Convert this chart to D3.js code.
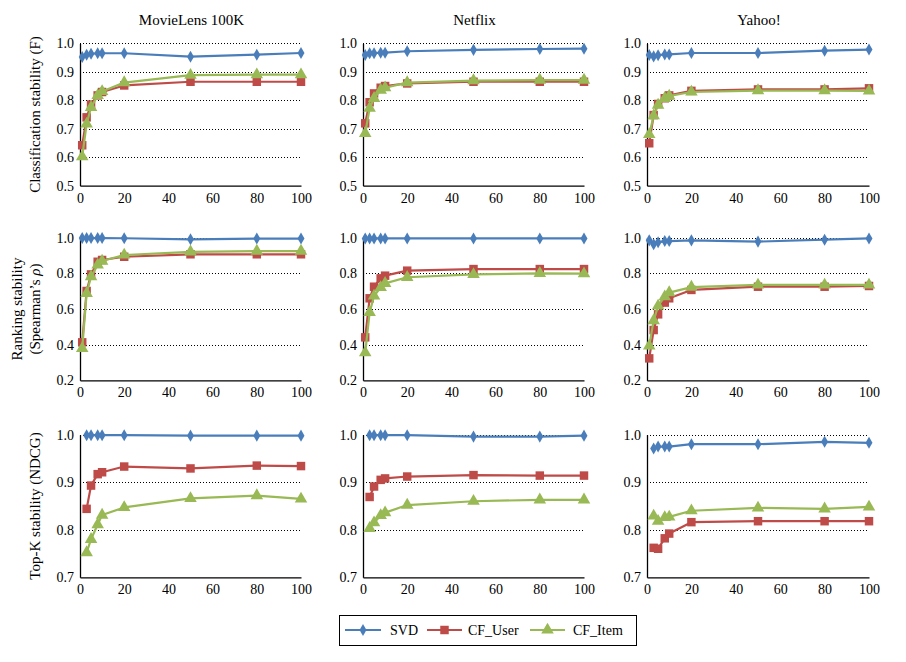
<!DOCTYPE html>
<html>
<head>
<meta charset="utf-8">
<script src="https://cdn.jsdelivr.net/npm/d3@7"></script>
<style>
  html, body { margin: 0; padding: 0; background: #fff; }
  svg { display: block; }
  svg text { font-family: "Liberation Serif", "Times New Roman", serif !important; }
</style>
</head>
<body>
<svg id="chart" width="906" height="662"></svg>
<script>
// ---------- DATA ----------
const datasets = ["MovieLens 100K", "Netflix", "Yahoo!"];
const seriesNames = ["SVD", "CF_User", "CF_Item"];
const xFull = [1, 3, 5, 8, 10, 20, 50, 80, 100];
const xTopK = [3, 5, 8, 10, 20, 50, 80, 100];
const xTicks = [0, 20, 40, 60, 80, 100];
const yTicksCls = [0.5, 0.6, 0.7, 0.8, 0.9, 1.0];
const yTicksRank = [0.2, 0.4, 0.6, 0.8, 1.0];
const yTicksTopK = [0.7, 0.8, 0.9, 1.0];

// Classification stability (F)
const clsSvdML   = [0.952, 0.960, 0.963, 0.965, 0.965, 0.965, 0.953, 0.960, 0.966];
const clsUserML  = [0.642, 0.740, 0.785, 0.817, 0.829, 0.852, 0.865, 0.865, 0.865];
const clsItemML  = [0.602, 0.717, 0.775, 0.817, 0.831, 0.862, 0.888, 0.890, 0.890];
const clsSvdNF   = [0.959, 0.965, 0.965, 0.967, 0.967, 0.972, 0.977, 0.980, 0.981];
const clsUserNF  = [0.719, 0.793, 0.824, 0.844, 0.850, 0.859, 0.865, 0.865, 0.865];
const clsItemNF  = [0.684, 0.772, 0.807, 0.836, 0.844, 0.862, 0.869, 0.871, 0.871];
const clsSvdYH   = [0.959, 0.954, 0.958, 0.961, 0.961, 0.966, 0.966, 0.974, 0.978];
const clsUserYH  = [0.649, 0.748, 0.787, 0.807, 0.817, 0.833, 0.838, 0.838, 0.842];
const clsItemYH  = [0.680, 0.746, 0.783, 0.807, 0.815, 0.829, 0.834, 0.834, 0.833];

// Ranking stability (Spearman's rho)
const rankSvdML  = [0.998, 0.998, 0.998, 0.998, 0.998, 0.997, 0.991, 0.995, 0.995];
const rankUserML = [0.413, 0.701, 0.794, 0.865, 0.875, 0.893, 0.907, 0.907, 0.907];
const rankItemML = [0.379, 0.688, 0.781, 0.847, 0.869, 0.903, 0.921, 0.925, 0.925];
const rankSvdNF  = [0.995, 0.996, 0.996, 0.996, 0.996, 0.996, 0.996, 0.996, 0.996];
const rankUserNF = [0.441, 0.660, 0.725, 0.772, 0.787, 0.815, 0.824, 0.824, 0.824];
const rankItemNF = [0.355, 0.581, 0.673, 0.721, 0.744, 0.778, 0.794, 0.800, 0.798];
const rankSvdYH  = [0.985, 0.963, 0.974, 0.981, 0.981, 0.985, 0.978, 0.989, 0.996];
const rankUserYH = [0.323, 0.482, 0.570, 0.636, 0.660, 0.707, 0.725, 0.725, 0.729];
const rankItemYH = [0.393, 0.535, 0.617, 0.669, 0.692, 0.723, 0.735, 0.735, 0.735];

// Top-K stability (NDCG)
const topkSvdML  = [0.999, 0.999, 0.999, 0.999, 0.999, 0.998, 0.998, 0.998];
const topkUserML = [0.844, 0.893, 0.917, 0.921, 0.933, 0.929, 0.935, 0.934];
const topkItemML = [0.752, 0.780, 0.811, 0.831, 0.847, 0.866, 0.872, 0.865];
const topkSvdNF  = [0.999, 0.999, 0.999, 0.999, 0.999, 0.996, 0.996, 0.998];
const topkUserNF = [0.869, 0.891, 0.905, 0.908, 0.912, 0.915, 0.914, 0.914];
const topkItemNF = [0.803, 0.815, 0.830, 0.836, 0.852, 0.860, 0.863, 0.863];
const topkSvdYH  = [0.971, 0.975, 0.975, 0.975, 0.980, 0.980, 0.985, 0.983];
const topkUserYH = [0.762, 0.760, 0.782, 0.792, 0.816, 0.818, 0.818, 0.818];
const topkItemYH = [0.829, 0.818, 0.826, 0.827, 0.840, 0.846, 0.844, 0.848];

// ---------- LAYOUT ----------
const rows = [
  { labelLines: [["Classification stability (F)"]], ticks: yTicksCls, domain: [0.5, 1.0], x: xFull,
    data: [[clsSvdML, clsUserML, clsItemML], [clsSvdNF, clsUserNF, clsItemNF], [clsSvdYH, clsUserYH, clsItemYH]] },
  { labelLines: [["Ranking stability"], ["(Spearman\u2019s ", "\u03C1", ")"]], ticks: yTicksRank, domain: [0.2, 1.0], x: xFull,
    data: [[rankSvdML, rankUserML, rankItemML], [rankSvdNF, rankUserNF, rankItemNF], [rankSvdYH, rankUserYH, rankItemYH]] },
  { labelLines: [["Top-K stability (NDCG)"]], ticks: yTicksTopK, domain: [0.7, 1.0], x: xTopK,
    data: [[topkSvdML, topkUserML, topkItemML], [topkSvdNF, topkUserNF, topkItemNF], [topkSvdYH, topkUserYH, topkItemYH]] }
];
const colX = [[80, 301], [363, 584], [647, 869]];
const rowY = [[43.3, 185.7], [237.7, 380.3], [434.7, 577.3]];
const colors = ["#4A7EBB", "#BE4B48", "#98B954"];
const symbols = [d3.symbolDiamond, d3.symbolSquare, d3.symbolTriangle];
const symSizes = [42, 72, 68];

const svg = d3.select("#chart");

// Column titles
datasets.forEach((name, c) => {
  svg.append("text")
    .attr("x", (colX[c][0] + colX[c][1]) / 2 + 1)
    .attr("y", 25)
    .attr("text-anchor", "middle")
    .attr("font-size", 15)
    .attr("fill", "#000")
    .text(name);
});

rows.forEach((row, r) => {
  // Row label
  const cy = (rowY[r][0] + rowY[r][1]) / 2;
  const lines = row.labelLines;
  const lx = lines.length === 1 ? 40 : 22;
  const lab = svg.append("text")
    .attr("transform", `translate(${lx},${cy}) rotate(-90)`)
    .attr("text-anchor", "middle")
    .attr("font-size", 15)
    .attr("fill", "#000");
  lines.forEach((parts, i) => {
    parts.forEach((t, j) => {
      const ts = lab.append("tspan").text(t);
      if (j === 0) ts.attr("x", 0).attr("dy", i === 0 ? 0 : 18);
      if (t === "\u03C1") ts.attr("font-style", "italic");
    });
  });

  datasets.forEach((ds, c) => {
    const x = d3.scaleLinear().domain([0, 100]).range(colX[c]);
    const y = d3.scaleLinear().domain(row.domain).range([rowY[r][1], rowY[r][0]]);
    const g = svg.append("g");

    // gridlines (dotted)
    g.selectAll("line.grid").data(row.ticks.filter(t => t > row.domain[0] + 1e-9))
      .join("line")
      .attr("x1", colX[c][0]).attr("x2", colX[c][1])
      .attr("y1", d => Math.round(y(d)) + 0.5).attr("y2", d => Math.round(y(d)) + 0.5)
      .attr("stroke", "#000").attr("stroke-width", 1)
      .attr("stroke-dasharray", "1,2");

    // y axis
    const yAxis = d3.axisLeft(y).tickValues(row.ticks).tickFormat(d3.format(".1f")).tickSize(0).tickPadding(6);
    const ya = g.append("g").attr("transform", `translate(${colX[c][0]},0)`).call(yAxis);
    ya.attr("font-family", null).attr("font-size", null);
    ya.select(".domain").attr("stroke", "#000").attr("stroke-width", 1.3);
    ya.selectAll("text").attr("font-size", 14).attr("fill", "#000");

    // x axis
    const xAxis = d3.axisBottom(x).tickValues(xTicks).tickSize(0).tickPadding(7);
    const xa = g.append("g").attr("transform", `translate(0,${rowY[r][1]})`).call(xAxis);
    xa.attr("font-family", null).attr("font-size", null);
    xa.select(".domain").attr("stroke", "#000").attr("stroke-width", 1.3);
    xa.selectAll("text").attr("font-size", 14).attr("fill", "#000");

    // series
    row.data[c].forEach((vals, s) => {
      const pts = row.x.map((xv, i) => [xv, vals[i]]);
      g.append("path")
        .datum(pts)
        .attr("fill", "none")
        .attr("stroke", colors[s])
        .attr("stroke-width", 2.2)
        .attr("stroke-linejoin", "round")
        .attr("d", d3.line().x(d => x(d[0])).y(d => y(d[1])));
      g.selectAll(null).data(pts).join("path")
        .attr("transform", d => `translate(${x(d[0])},${y(d[1])})`)
        .attr("d", d3.symbol().type(symbols[s]).size(symSizes[s]))
        .attr("fill", colors[s]);
    });
  });
});

// Legend
const legend = svg.append("g");
legend.append("rect")
  .attr("x", 339.5).attr("y", 615.5).attr("width", 297).attr("height", 30)
  .attr("fill", "#fff").attr("stroke", "#000").attr("stroke-width", 1);
const legItems = [
  { x1: 345, x2: 381, tx: 390 },
  { x1: 427, x2: 462, tx: 468 },
  { x1: 530, x2: 565, tx: 573 }
];
seriesNames.forEach((name, s) => {
  const it = legItems[s];
  const ly = 630;
  legend.append("line")
    .attr("x1", it.x1).attr("x2", it.x2).attr("y1", ly).attr("y2", ly)
    .attr("stroke", colors[s]).attr("stroke-width", 2.2);
  legend.append("path")
    .attr("transform", `translate(${(it.x1 + it.x2) / 2},${ly})`)
    .attr("d", d3.symbol().type(symbols[s]).size(symSizes[s]))
    .attr("fill", colors[s]);
  legend.append("text")
    .attr("x", it.tx).attr("y", ly + 5)
    .attr("font-size", 14).attr("fill", "#000")
    .text(name);
});
</script>
</body>
</html>
